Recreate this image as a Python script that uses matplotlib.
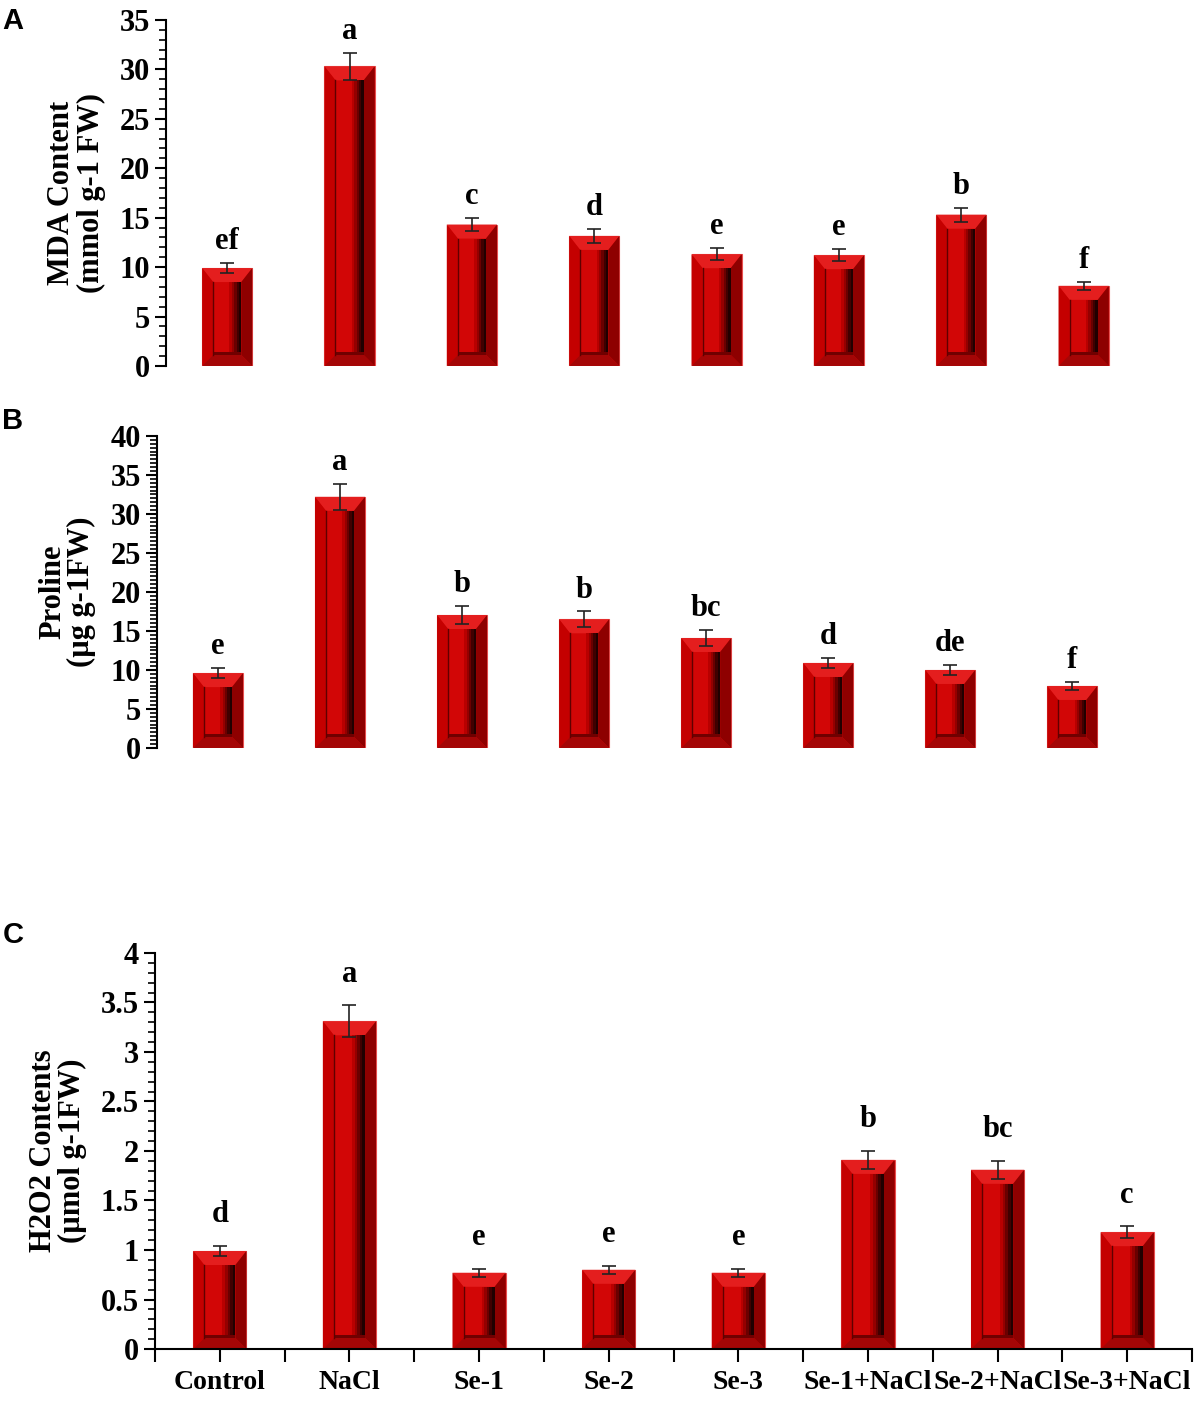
import numpy as np
import matplotlib
matplotlib.use("Agg")
import matplotlib.pyplot as plt
from matplotlib.patches import Polygon
from matplotlib.ticker import MultipleLocator

plt.rcParams['font.family'] = ['Liberation Serif', 'DejaVu Serif']
plt.rcParams['font.weight'] = 'bold'

# data
treatments = ["Control", "NaCl", "Se-1", "Se-2", "Se-3", "Se-1+NaCl", "Se-2+NaCl", "Se-3+NaCl"]

mda = [9.9, 30.3, 14.3, 13.15, 11.3, 11.2, 15.3, 8.1]
mda_err = [0.5, 1.4, 0.7, 0.7, 0.6, 0.6, 0.7, 0.4]
mda_let = ["ef", "a", "c", "d", "e", "e", "b", "f"]

proline = [9.6, 32.2, 17.05, 16.5, 14.1, 10.9, 10.0, 7.95]
proline_err = [0.6, 1.7, 1.1, 1.0, 1.0, 0.6, 0.6, 0.5]
proline_let = ["e", "a", "b", "b", "bc", "d", "de", "f"]

h2o2 = [0.99, 3.31, 0.77, 0.80, 0.77, 1.91, 1.81, 1.18]
h2o2_err = [0.05, 0.16, 0.04, 0.04, 0.04, 0.09, 0.09, 0.06]
h2o2_let = ["d", "a", "e", "e", "e", "b", "bc", "c"]

W, H = 1198, 1401
fig = plt.figure(figsize=(W / 100, H / 100), dpi=100)

BW = 0.41


def poly(ax, pts, c, z):
    ax.add_patch(Polygon(pts, closed=True, facecolor=c, edgecolor='none', zorder=z))


def bevel_bars(ax, vals, ymax):
    # red bars with a fake 3D bevelled frame
    pos = ax.get_position()
    px = 8 / (pos.width * W)       # data units per pixel, x
    py = ymax / (pos.height * H)   # data units per pixel, y
    bx = 11 * px
    bt = 14 * py
    bb = 11 * py
    x = np.arange(len(vals))
    bars = ax.bar(x, vals, width=BW, color='#d20606', edgecolor='#e85050', linewidth=0.8, zorder=2)
    for b in bars:
        x0 = b.get_x()
        x1 = x0 + b.get_width()
        y1 = b.get_height()
        ix0, ix1 = x0 + bx, x1 - bx
        iy0, iy1 = bb, y1 - bt
        poly(ax, [(x0, y1), (x1, y1), (ix1, iy1), (ix0, iy1)], '#e41e1e', 2.1)
        poly(ax, [(x0, 0), (x0, y1), (ix0, iy1), (ix0, iy0)], '#c40000', 2.1)
        poly(ax, [(x1, 0), (x1, y1), (ix1, iy1), (ix1, iy0)], '#8e0000', 2.1)
        poly(ax, [(x0, 0), (x1, 0), (ix1, iy0), (ix0, iy0)], '#a40606', 2.1)
        iw = ix1 - ix0
        # dark shadow on the right of the inner face
        shades = ['#b80000', '#940000', '#6a0000', '#400000', '#200000']
        band = iw * 0.42
        sw = band / len(shades)
        for k, c in enumerate(shades):
            sx = ix1 - band + k * sw
            poly(ax, [(sx, iy0), (sx + sw, iy0), (sx + sw, iy1), (sx, iy1)], c, 2.2)
        # darker rim inside the bottom facet
        poly(ax, [(ix0, iy0), (ix1, iy0), (ix1, iy0 + 3 * py), (ix0, iy0 + 3 * py)], '#700000', 2.25)
        ax.plot([ix0, ix0], [iy0, iy1], color='#600000', lw=1.0, zorder=2.3)
    return x


def panel(rect, vals, errs, lets, ymax, major, minor, ylabel, tag, tag_y, gap, xaxis=False):
    ax = fig.add_axes(rect)
    ax.set_xlim(-0.5, 7.5)
    ax.set_ylim(0, ymax)
    x = bevel_bars(ax, vals, ymax)
    ax.errorbar(x, vals, yerr=errs, fmt='none', ecolor='#222222', elinewidth=1.2,
                capsize=5, capthick=1.2, zorder=3)
    for xi, v, e, t in zip(x, vals, errs, lets):
        ax.annotate(t, (xi, v + e), xytext=(0, gap), textcoords='offset points',
                    ha='center', va='bottom', fontsize=22, fontweight='bold')
    for s in ['top', 'right']:
        ax.spines[s].set_visible(False)
    ax.spines['left'].set_linewidth(1.5)
    ax.yaxis.set_major_locator(MultipleLocator(major))
    ax.yaxis.set_minor_locator(MultipleLocator(minor))
    ax.tick_params(axis='y', which='major', length=8, width=1.5, labelsize=22, direction='out')
    ax.tick_params(axis='y', which='minor', length=5, width=1.2, direction='out')
    ax.yaxis.set_major_formatter(plt.FuncFormatter(lambda v, p: ('%g' % v)))
    if xaxis:
        ax.spines['bottom'].set_linewidth(1.5)
        ax.set_xticks(x)
        ax.set_xticklabels(treatments, fontsize=20, fontweight='bold')
        ax.set_xticks(np.arange(-0.5, 8, 1), minor=True)
        ax.tick_params(axis='x', which='both', length=9, width=1.5, direction='out', pad=6)
    else:
        ax.spines['bottom'].set_visible(False)
        ax.set_xticks([])
    ax.set_ylabel(ylabel, fontsize=22, fontweight='bold', linespacing=1.0, labelpad=10)
    fig.text(0.002, tag_y, tag, family='Liberation Sans',
             fontsize=21, fontweight='bold', ha='left', va='top')
    return ax


panel([0.1386, 0.7388, 0.817, 0.2470], mda, mda_err, mda_let, 35, 5, 1,
      "MDA Content\n(mmol g-1 FW)", "A", 0.995, 5)
panel([0.131, 0.4661, 0.815, 0.2227], proline, proline_err, proline_let, 40, 5, 0.5,
      "Proline\n(\u00b5g g-1FW)", "B", 0.7095, 5)
panel([0.1294, 0.0371, 0.8656, 0.2827], h2o2, h2o2_err, h2o2_let, 4, 0.5, 0.1,
      "H2O2 Contents\n(\u00b5mol g-1FW)", "C", 0.3426, 12, xaxis=True)

fig.savefig("out.png", dpi=100)
